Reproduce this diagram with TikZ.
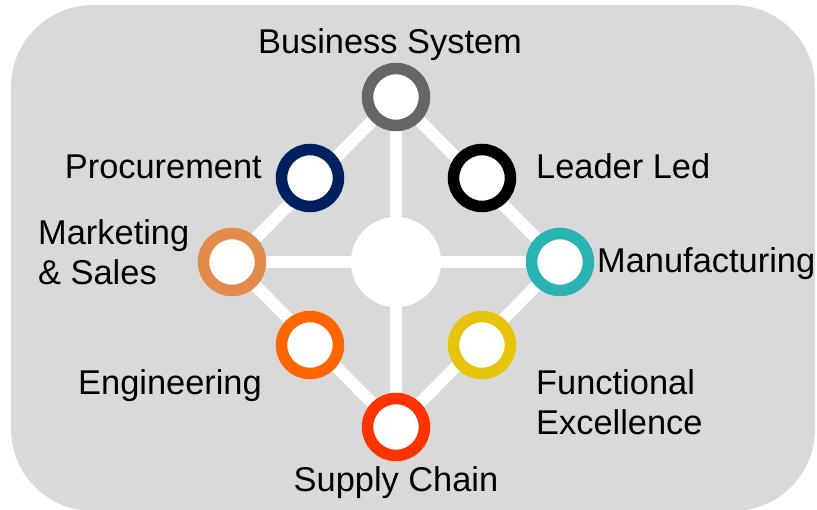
\documentclass[tikz,border=0pt]{standalone}
\usepackage{fontspec}
\setmainfont{Liberation Sans}
\usetikzlibrary{positioning}

\definecolor{panelgray}{HTML}{D9D9D9}
\definecolor{ringgray}{HTML}{666666}
\definecolor{ringnavy}{HTML}{002060}
\definecolor{ringtan}{HTML}{E38B4B}
\definecolor{ringteal}{HTML}{2AB3B3}
\definecolor{ringorange}{HTML}{FF6600}
\definecolor{ringyellow}{HTML}{E6C40C}
\definecolor{ringred}{HTML}{FF3300}

\begin{document}
\begin{tikzpicture}[
		x=1pt, y=-1pt,
		% Define styles for nodes
		ring/.style={circle, draw=#1, line width=11.5pt, fill=white, minimum size=57pt, inner sep=0pt},
		hub/.style={circle, fill=white, minimum size=90pt, inner sep=0pt},
		spoke/.style={draw=white, line width=12pt},
		label/.style={inner sep=0pt, font=\fontsize{34.4}{40}\selectfont, align=left}
	]
	\useasboundingbox (0,0) rectangle (817,509);

	% Panel
	\fill[panelgray, rounded corners=82pt] (11,5) rectangle (815,511);

	% Hub and rings
	\node[hub] (hub) at (396,262) {};
	\coordinate (top) at (396,97);
	\coordinate (left) at (232,262);
	\coordinate (right) at (560,262);
	\coordinate (bottom) at (396,427);

	% Spokes
	\draw[spoke] (top) -- (left) -- (bottom) -- (right) -- cycle;
	\draw[spoke] (top) -- (hub) -- (bottom);
	\draw[spoke] (left) -- (hub) -- (right);
	\node[hub] at (hub) {};

	\node[ring=ringgray] (business) at (top) {};
	\node[ring=ringnavy] (procure) at (310,178) {};
	\node[ring=black] (leader) at (482,178) {};
	\node[ring=ringtan] (marketing) at (left) {};
	\node[ring=ringteal] (manufact) at (right) {};
	\node[ring=ringorange] (engineer) at (310,345) {};
	\node[ring=ringyellow] (functional) at (482,345) {};
	\node[ring=ringred] (supply) at (bottom) {};

	% Labels
	\node[label, anchor=base] (businesslbl) at (390,53) {Business System};
	\node[label, anchor=base east] (procurelbl) at (262,178) {Procurement};
	\node[label, anchor=base west] (leaderlbl) at (536,178) {Leader Led};
	\node[label, anchor=north west] (marketinglbl) at (38,219) {Marketing\\\& Sales};
	\node[label, anchor=base west] (manufactlbl) at (597,272) {Manufacturing};
	\node[label, anchor=base east] (engineerlbl) at (262,394) {Engineering};
	\node[label, anchor=north west] (functionallbl) at (536,369) {Functional\\Excellence};
	\node[label, anchor=base] (supplylbl) at (396,491) {Supply Chain};
\end{tikzpicture}
\end{document}
